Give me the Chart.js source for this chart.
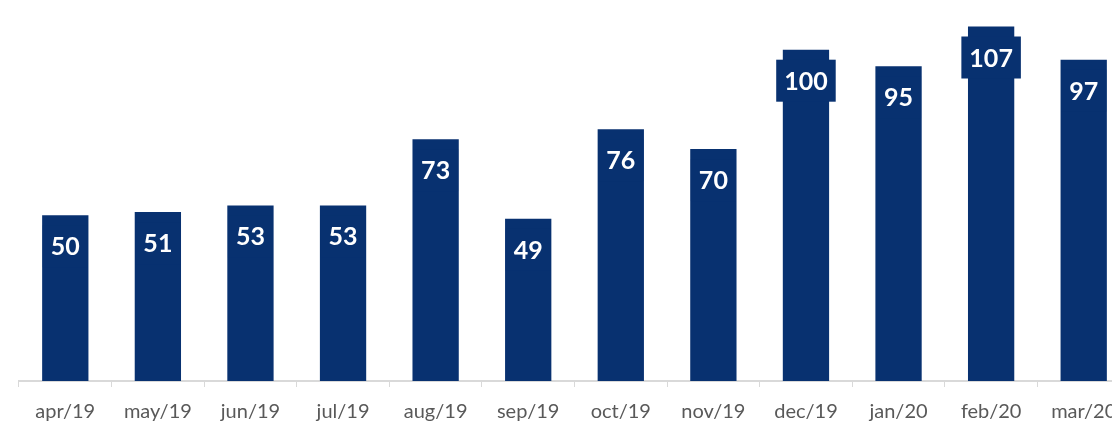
<!DOCTYPE html>
<html>
<head>
<meta charset="utf-8">
<script src="https://cdn.jsdelivr.net/npm/chart.js@4"></script>
<style>
  html, body { margin: 0; padding: 0; background: #fff; overflow: hidden; }
</style>
</head>
<body>
<canvas id="monthly_chart" width="1132" height="437"></canvas>
<script>
const months = ['apr/19', 'may/19', 'jun/19', 'jul/19', 'aug/19', 'sep/19', 'oct/19', 'nov/19', 'dec/19', 'jan/20', 'feb/20', 'mar/20'];
const totals = [50, 51, 53, 53, 73, 49, 76, 70, 100, 95, 107, 97];

const navy = '#083170';

// white value labels on a navy box just under the top of each bar
const barLabels = {
  id: 'barLabels',
  afterDatasetsDraw(chart) {
    const ctx = chart.ctx;
    const meta = chart.getDatasetMeta(0);
    ctx.save();
    ctx.font = 'bold 25px Lato';
    ctx.textAlign = 'center';
    ctx.textBaseline = 'middle';
    meta.data.forEach((bar, i) => {
      const text = String(totals[i]);
      const w = ctx.measureText(text).width + 16;
      const cy = bar.y + 31;
      ctx.fillStyle = navy;
      ctx.fillRect(bar.x - w / 2, cy - 21, w, 42);
      ctx.fillStyle = '#ffffff';
      ctx.fillText(text, bar.x, cy + 1);
    });
    ctx.restore();
  }
};

var ctx = document.getElementById('monthly_chart').getContext('2d');
var myChart = new Chart(ctx, {
  type: 'bar',
  plugins: [barLabels],
  data: {
    labels: months,
    datasets: [{
      data: totals,
      backgroundColor: navy,
      barPercentage: 0.5,
      categoryPercentage: 1.0
    }]
  },
  options: {
    responsive: false,
    animation: false,
    layout: { padding: { left: 19, right: 2, top: 0, bottom: 0 } },
    plugins: {
      legend: { display: false },
      tooltip: { enabled: false }
    },
    scales: {
      x: {
        grid: {
          offset: true,
          drawOnChartArea: false,
          tickLength: 6,
          color: '#d9d9d9'
        },
        border: { color: '#d9d9d9', width: 2 },
        ticks: {
          padding: 13,
          maxRotation: 0,
          autoSkip: false,
          color: '#595959',
          font: { family: 'Lato', size: 20 }
        }
      },
      y: {
        display: false,
        min: 0,
        max: 115
      }
    }
  }
});
</script>
</body>
</html>
